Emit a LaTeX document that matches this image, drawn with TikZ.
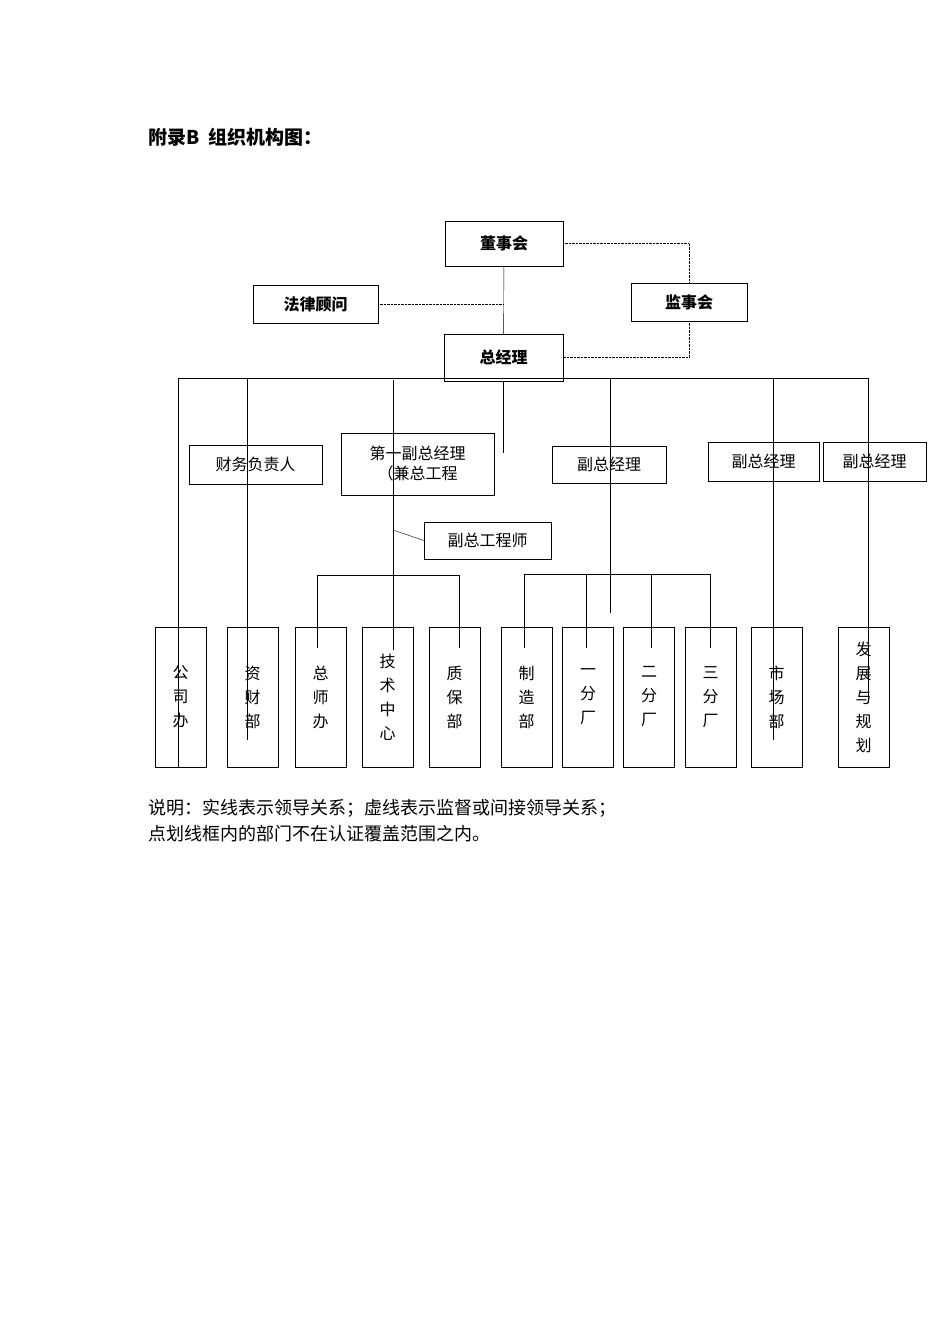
\documentclass[tikz,border=0pt]{standalone}
\usepackage{fontspec}
\setmainfont{Noto Sans CJK SC}
\usetikzlibrary{positioning}
\tikzset{
  box/.style={draw,thin,inner sep=1pt,font=\fontsize{16}{20}\selectfont},
  topbox/.style={box,font=\fontsize{16}{20}\selectfont\bfseries},
  unit/.style={box,minimum width=51,minimum height=140,align=center,font=\fontsize{16}{24}\selectfont},
  dot/.style={densely dotted},
}
\begin{document}
\begin{tikzpicture}[x=1pt,y=-1pt]
    \useasboundingbox (0,0) rectangle (950,1344);
    \node[anchor=west,font=\fontsize{19}{22}\selectfont\bfseries] (title) at (145,137) {附录B\ \ 组织机构图：};
    % top level
    \node[topbox,minimum width=118,minimum height=45] (dsh) at (504,243.5) {董事会};
    \node[topbox,minimum width=125,minimum height=38] (flgw) at (315.5,304) {法律顾问};
    \node[topbox,minimum width=116,minimum height=38] (jsh) at (689,302) {监事会};
    \node[topbox,minimum width=119,minimum height=47] (zjl) at (503.5,357.5) {总经理};
    \draw (dsh) -- (zjl);
    \draw[dot] (flgw.east) -- (503,304);
    \draw[dot] (dsh.east) -| (jsh.north);
    \draw[dot] (jsh.south) |- (zjl.east);
    % bus line
    \coordinate (busL) at (178,378);
    \coordinate (busR) at (868,378);
    \draw (busL) -- (busR);
    % deputies
    \node[box,minimum width=133,minimum height=39] (cwfz) at (255.5,464.5) {财务负责人};
    \node[box,minimum width=153,minimum height=62,align=center] (dyfz) at (417.5,464) {第一副总经理\\（兼总工程};
    \node[box,minimum width=114,minimum height=37] (fz1) at (609,464.5) {副总经理};
    \node[box,minimum width=111,minimum height=39] (fz2) at (763.5,461.5) {副总经理};
    \node[box,minimum width=103,minimum height=39] (fz3) at (874.5,461.5) {副总经理};
    \node[box,minimum width=127,minimum height=37] (fzgc) at (487.5,540.5) {副总工程师};
    % departments
    \foreach \n/\x/\t in {gsb/180.5/公\\司\\办, zcb/252.5/资\\财\\部, zsb/320.5/总\\师\\办,
        jszx/387.5/技\\术\\中\\心, zbb/454.5/质\\保\\部, zzb/526.5/制\\造\\部,
        yfc/588/一\\分\\厂, efc/649/二\\分\\厂, sfc/710.5/三\\分\\厂,
        scb/776.5/市\\场\\部, fzgh/863.5/发\\展\\与\\规\\划}{
        \node[unit] (\n) at (\x,697) {\t};
    }
    % links
    \draw (178,378) -- (178,767);
    \draw (247,378) -- (247,740);
    \draw (393,380) -- (393,650);
    \draw (503,381) -- (503,453);
    \draw (610,378) -- (610,613);
    \draw (773,378) -- (773,740);
    \draw (868,378) -- (868,703);
    \draw (393,530) -- (fzgc.west);
    \draw (317,648) -- (317,575) -- (459,575) -- (459,648);
    \draw (524,574) -- (710,574);
    \foreach \x in {524,586,651,710}{
        \draw (\x,574) -- (\x,648);
    }
    % note
    \node[anchor=west,align=left,font=\fontsize{18}{26}\selectfont] (note) at (145,821)
      {说明：实线表示领导关系；虚线表示监督或间接领导关系；\\点划线框内的部门不在认证覆盖范围之内。};
\end{tikzpicture}
\end{document}
